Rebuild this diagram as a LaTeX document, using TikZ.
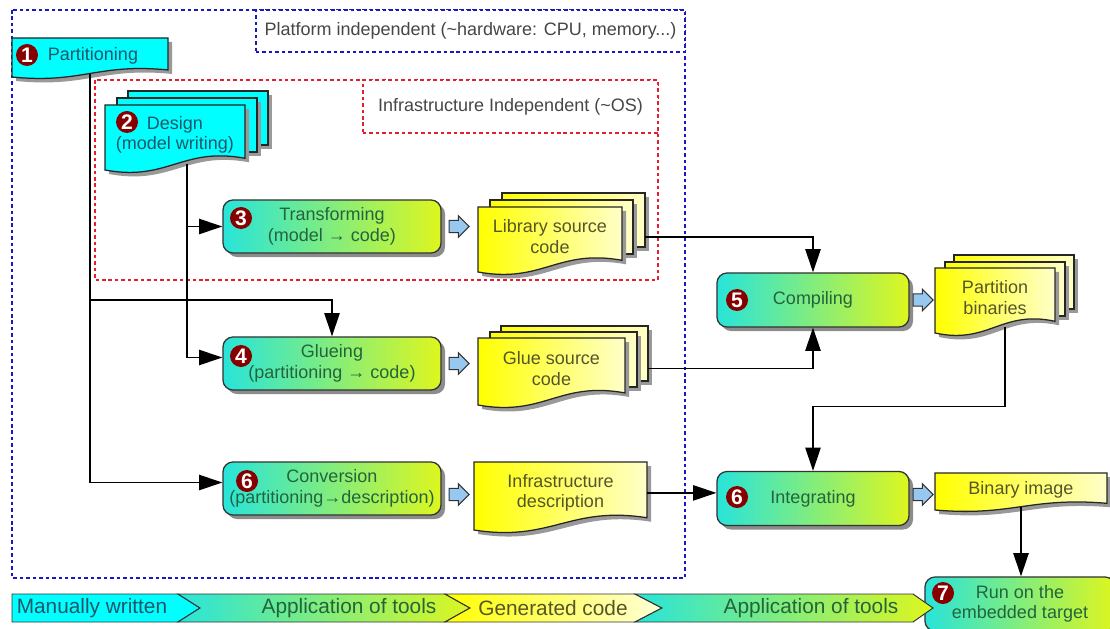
\documentclass[tikz,border=0pt]{standalone}
\usepackage{fontspec}
\setmainfont{Liberation Sans}
\usepackage{tikz}
\usetikzlibrary{positioning, shapes.arrows, arrows.meta, calc, shadows}

\definecolor{docCyan}{RGB}{0,255,255}
\definecolor{docYellow}{RGB}{255,255,0}
\definecolor{docPale}{RGB}{255,255,200}
\definecolor{procLeft}{RGB}{40,228,218}
\definecolor{procRight}{RGB}{222,246,30}
\definecolor{procText}{RGB}{35,100,60}
\definecolor{docText}{RGB}{85,85,40}
\definecolor{cyanText}{RGB}{30,85,105}
\definecolor{badgeRed}{RGB}{135,0,0}
\definecolor{flowBlue}{RGB}{150,200,240}
\definecolor{frameBlue}{RGB}{25,25,195}
\definecolor{frameRed}{RGB}{228,30,45}
\definecolor{labelGray}{RGB}{70,70,70}

% sheet with a wavy lower edge: x1, y1, x2, y2, style
\newcommand{\wavepage}[5]{%
  \pgfmathsetmacro{\pgdep}{0.18*(#4-#2)}
  \pgfmathsetmacro{\pgxl}{#1+0.45*(#3-#1)}
  \pgfmathsetmacro{\pgxr}{#1+0.55*(#3-#1)}
  \fill[pageshadow] (#1+4,#2+4) -- (#3+4,#2+4) -- (#3+4,#4-\pgdep+4)
    .. controls (\pgxr+4,#4-2*\pgdep+4) and (\pgxl+4,#4+\pgdep+4) .. (#1+4,#4+4) -- cycle;
  \draw[#5] (#1,#2) -- (#3,#2) -- (#3,#4-\pgdep)
    .. controls (\pgxr,#4-2*\pgdep) and (\pgxl,#4+\pgdep) .. (#1,#4) -- cycle;
}
% plain sheet behind: x1, y1, x2, y2, style
\newcommand{\flatpage}[5]{%
  \fill[pageshadow] (#1+4,#2+4) rectangle (#3+4,#4+4);
  \draw[#5] (#1,#2) rectangle (#3,#4);
}

\begin{document}
\begin{tikzpicture}[
 x=0.025cm, y=-0.025cm,
 font=\fontsize{12.8}{14.5}\selectfont,
 procbox/.style={draw=black!80, line width=0.9pt, rounded corners=0.25cm, left color=procLeft, right color=procRight, text=procText, align=center, inner sep=0pt,
   drop shadow={shadow xshift=0.1cm, shadow yshift=-0.1cm, fill=black!45, opacity=1}},
 docnode/.style={inner sep=0pt, align=center, text=docText},
 cyannode/.style={inner sep=0pt, align=center, text=cyanText},
 badge/.style={circle, fill=badgeRed, text=white, inner sep=0pt, minimum size=0.55cm, font=\fontsize{15}{15}\selectfont\bfseries},
 flow/.style={single arrow, draw=black!80, fill=flowBlue, line width=0.7pt, inner xsep=0.08cm, inner ysep=0.14cm, minimum height=0.5cm, single arrow head extend=0.12cm, anchor=west},
 arrow/.style={-{Triangle[length=0.58cm, width=0.38cm]}, line width=1.3pt},
 pageshadow/.style={fill=black!40},
 cyanpage/.style={draw=black!85, line width=0.9pt, fill=docCyan},
 yellowpage/.style={draw=black!85, line width=0.9pt, left color=docYellow, right color=docPale},
 bluebox/.style={draw=frameBlue, line width=1.3pt, dash pattern=on 2.5pt off 2.1pt},
 redbox/.style={draw=frameRed, line width=1.3pt, dash pattern=on 2.5pt off 2.1pt},
 legseg/.style={draw=black!80, line width=0.7pt},
 legtext/.style={font=\fontsize{14.8}{16}\selectfont}
 ]

  \useasboundingbox (0,0) rectangle (1110,629);
  \clip (0,0) rectangle (1110,629);

  % Platform and infrastructure frames
  \draw[bluebox] (12,10) rectangle (685,578);
  \node[bluebox, fill=white, minimum width=10.725cm, minimum height=1.05cm, text=labelGray] (plat_label) at (470.5,31) {Platform independent (\textasciitilde hardware: CPU, memory...)};
  \draw[redbox] (95,80) rectangle (658,280);
  \node[redbox, fill=white, minimum width=7.375cm, minimum height=1.325cm, text=labelGray] (infra_label) at (510.5,106.5) {Infrastructure Independent (\textasciitilde OS)};

  % Manually written sheets
  \wavepage{12}{38}{168}{77}{cyanpage}
  \node[cyannode, minimum width=3.9cm, minimum height=0.8875cm] (partitioning) at (90,55.75) {\hspace{0.15cm}Partitioning};
  \flatpage{128}{91}{268}{145}{cyanpage}
  \flatpage{117}{98}{257}{152}{cyanpage}
  \wavepage{105}{105}{245}{170}{cyanpage}
  \node[cyannode, minimum width=3.5cm, minimum height=1.479cm] (design) at (175,134.6) {Design\\(model writing)};

  % Generated sheets
  \flatpage{502}{193}{645}{247}{yellowpage}
  \flatpage{490}{200}{633}{254}{yellowpage}
  \wavepage{478}{207}{622}{272}{yellowpage}
  \node[docnode, minimum width=3.6cm, minimum height=1.479cm] (lib_src) at (550,236.6) {Library source\\code};

  \flatpage{501}{326}{648}{381}{yellowpage}
  \flatpage{490}{332}{637}{387}{yellowpage}
  \wavepage{478}{338}{625}{405}{yellowpage}
  \node[docnode, minimum width=3.675cm, minimum height=1.524cm] (glue_src) at (551.5,368.5) {Glue source\\code};

  \wavepage{474}{462}{647}{530}{yellowpage}
  \node[docnode, minimum width=4.325cm, minimum height=1.5475cm] (infra_desc) at (560.5,492.9) {Infrastructure\\description};

  \flatpage{954}{255}{1074}{309}{yellowpage}
  \flatpage{945}{262}{1065}{316}{yellowpage}
  \wavepage{935}{268}{1055}{333}{yellowpage}
  \node[docnode, minimum width=3cm, minimum height=1.479cm] (part_bin) at (995,297.6) {Partition\\binaries};

  \wavepage{935}{473}{1107}{510}{yellowpage}
  \node[docnode, minimum width=4.3cm, minimum height=0.842cm] (bin_image) at (1021,489.8) {Binary image};

  % Tool steps
  \node[procbox, minimum width=5.45cm, minimum height=1.325cm] (transforming) at (332,226.5) {Transforming\\(model \textrightarrow{} code)};
  \node[procbox, minimum width=5.45cm, minimum height=1.325cm] (glueing) at (332,363.5) {Glueing\\(partitioning \textrightarrow{} code)};
  \node[procbox, minimum width=5.45cm, minimum height=1.325cm] (conversion) at (332,488.5) {Conversion\\(partitioning\textrightarrow description)};
  \node[procbox, minimum width=4.8cm, minimum height=1.35cm] (compiling) at (813,300) {Compiling};
  \node[procbox, minimum width=4.8cm, minimum height=1.35cm] (integrating) at (813,498.5) {Integrating};
  \node[procbox, minimum width=4.75cm, minimum height=1.35cm] (run_target) at (1020,604) {Run on the\\embedded target};

  % Step numbers
  \node[badge] (badge_1) at (27,55) {1};
  \node[badge] (badge_2) at (127,122) {2};
  \node[badge] (badge_3) at (241,218) {3};
  \node[badge] (badge_4) at (241,356) {4};
  \node[badge] (badge_6a) at (247,481) {6};
  \node[badge] (badge_5) at (737,300) {5};
  \node[badge] (badge_6b) at (737,497) {6};
  \node[badge] (badge_7) at (943,593) {7};

  % Outputs of the steps
  \node[flow] (flow_1) at ([xshift=0.175cm]transforming.east) {};
  \node[flow] (flow_2) at ([xshift=0.175cm]glueing.east) {};
  \node[flow] (flow_3) at ([xshift=0.175cm, yshift=-0.15cm]conversion.east) {};
  \node[flow] (flow_4) at ([xshift=0.075cm]compiling.east) {};
  \node[flow] (flow_5) at ([xshift=0.075cm, yshift=0.1cm]integrating.east) {};

  % Connectors
  \draw[arrow] (partitioning.south) |- ([yshift=0.15cm]conversion.west);
  \draw[arrow] (partitioning.south |- 0,300) -| (glueing.north);
  \draw[arrow] ([xshift=0.3cm]design.south) |- ([yshift=0.15cm]glueing.west);
  \draw[arrow] ([xshift=0.3cm]design.south |- transforming.west) -- (transforming.west);
  \draw[arrow] ([xshift=0.575cm]lib_src.east) -| (compiling.north);
  \draw[arrow] ([xshift=0.575cm]glue_src.east) -| (compiling.south);
  \draw[arrow] ([xshift=0.25cm]part_bin.south) |- ([yshift=1.61cm]integrating.north) -- (integrating.north);
  \draw[arrow] (infra_desc.east) -- (infra_desc.east -| integrating.west);
  \draw[arrow] (bin_image.south) -- (bin_image.south |- run_target.north);

  % Legend bar
  \draw[legseg, fill=docCyan] (12,594) -- (178,594) -- (200,608) -- (178,622) -- (12,622) -- cycle;
  \draw[legseg, left color=procLeft, right color=procRight] (178,594) -- (445,594) -- (470,608) -- (445,622) -- (178,622) -- (200,608) -- cycle;
  \draw[legseg, left color=docYellow, right color=docPale!70] (445,594) -- (635,594) -- (662,608) -- (635,622) -- (445,622) -- (470,608) -- cycle;
  \draw[legseg, left color=procLeft, right color=procRight] (635,594) -- (913,594) -- (933,608) -- (913,622) -- (635,622) -- (662,608) -- cycle;
  \node[legtext, text=cyanText] (leg_manual) at (92,608) {Manually written};
  \node[legtext, text=procText] (leg_tools_1) at (349,608) {Application of tools};
  \node[legtext, text=docText] (leg_generated) at (553,608) {Generated code};
  \node[legtext, text=procText] (leg_tools_2) at (811,608) {Application of tools};

\end{tikzpicture}
\end{document}
